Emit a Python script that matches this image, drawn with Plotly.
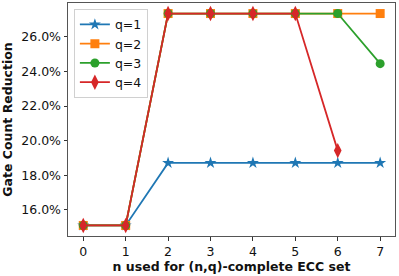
import plotly.graph_objects as go

n_vals = [0, 1, 2, 3, 4, 5, 6, 7]
q1 = [15.09, 15.09, 18.71, 18.71, 18.71, 18.71, 18.71, 18.71]
q2 = [15.09, 15.09, 27.35, 27.35, 27.35, 27.35, 27.35, 27.35]
q3 = [15.09, 15.09, 27.35, 27.35, 27.35, 27.35, 27.35, 24.45]
q4 = [15.09, 15.09, 27.35, 27.35, 27.35, 27.35, 19.42]
names = ["q=1", "q=2", "q=3", "q=4"]
colors = ["#1f77b4", "#ff7f0e", "#2ca02c", "#d62728"]
symbols = ["star", "square", "circle", "diamond-tall"]
x_ticks = [0, 1, 2, 3, 4, 5, 6, 7]
y_ticks = [16, 18, 20, 22, 24, 26]

fig = go.Figure()
for name, ys, c, s in zip(names, [q1, q2, q3, q4], colors, symbols):
    fig.add_trace(go.Scatter(
        x=n_vals[:len(ys)], y=ys, name=name, mode="lines+markers",
        line=dict(color=c, width=1.8),
        marker=dict(symbol=s, size=9 if s != "diamond-tall" else 11, color=c, line=dict(width=0)),
    ))

fig.update_layout(
    width=399, height=276,
    margin=dict(l=68, r=4, t=3, b=40, autoexpand=False),
    paper_bgcolor="white", plot_bgcolor="white",
    font=dict(family="DejaVu Sans", size=12.5, color="#111"),
    showlegend=True,
    legend=dict(x=0.018, y=0.975, xanchor="left", yanchor="top",
                bordercolor="#d0d0d0", borderwidth=1, bgcolor="rgba(255,255,255,0.8)",
                font=dict(size=12.5), tracegroupgap=0, itemwidth=30),
)
fig.update_xaxes(
    range=[-0.36, 7.35], tickvals=x_ticks, ticks="outside", ticklen=3.5, tickcolor="#333",
    showline=True, linecolor="#555", linewidth=1, mirror=True, showgrid=False, zeroline=False,
    automargin=False,
    title=dict(text="<b>n used for (n,q)-complete ECC set</b>", font=dict(size=12.5), standoff=3),
)
fig.update_yaxes(
    range=[14.48, 27.96], tickvals=y_ticks, ticktext=[f"{v:.1f}%" for v in y_ticks],
    ticks="outside", ticklen=3.5, tickcolor="#333",
    showline=True, linecolor="#555", linewidth=1, mirror=True, showgrid=False, zeroline=False,
    automargin=False,
    title=dict(text="<b>Gate Count Reduction</b>", font=dict(size=12.5), standoff=6),
)
fig.write_html("out.html", config={"displayModeBar": False},
               post_script="document.body.style.margin='0';")
